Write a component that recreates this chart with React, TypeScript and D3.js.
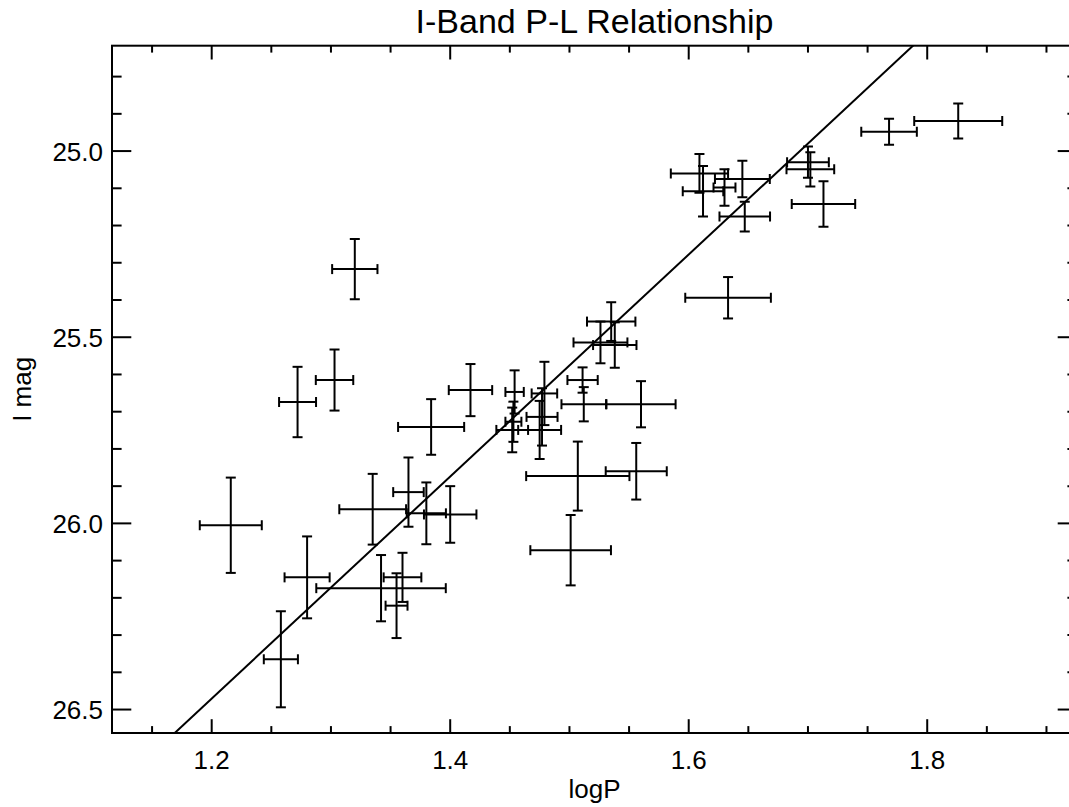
import React from "react";
import * as d3 from "d3";

const logP = [1.320, 1.303, 1.272, 1.417, 1.384, 1.216, 1.335, 1.365, 1.380, 1.400, 1.280, 1.258, 1.342, 1.360, 1.355, 1.633, 1.535, 1.526, 1.538, 1.511, 1.512, 1.560, 1.454, 1.452, 1.453, 1.479, 1.475, 1.477, 1.507, 1.556, 1.501, 1.826, 1.768, 1.700, 1.702, 1.713, 1.647, 1.645, 1.609, 1.612, 1.630];
const iMag = [25.317, 25.615, 25.674, 25.642, 25.741, 26.005, 25.962, 25.916, 25.973, 25.976, 26.145, 26.365, 26.174, 26.145, 26.221, 25.394, 25.458, 25.514, 25.521, 25.615, 25.680, 25.680, 25.647, 25.749, 25.727, 25.651, 25.749, 25.714, 25.873, 25.860, 26.072, 24.919, 24.948, 25.030, 25.049, 25.142, 25.176, 25.075, 25.060, 25.108, 25.098];
const logPErr = [0.019, 0.0157, 0.0155, 0.0182, 0.0277, 0.026, 0.028, 0.0128, 0.0164, 0.022, 0.0189, 0.0143, 0.0543, 0.0158, 0.0092, 0.0359, 0.0203, 0.0226, 0.0182, 0.0127, 0.0187, 0.029, 0.0077, 0.0133, 0.0067, 0.0107, 0.018, 0.013, 0.0433, 0.0256, 0.0338, 0.0369, 0.0233, 0.0175, 0.020, 0.0266, 0.0212, 0.023, 0.024, 0.017, 0.0092];
const iMagErr = [0.081, 0.082, 0.0945, 0.070, 0.0747, 0.128, 0.095, 0.093, 0.083, 0.076, 0.110, 0.129, 0.089, 0.066, 0.087, 0.0556, 0.052, 0.056, 0.061, 0.034, 0.046, 0.062, 0.058, 0.060, 0.054, 0.085, 0.078, 0.077, 0.0927, 0.076, 0.0945, 0.047, 0.035, 0.042, 0.046, 0.061, 0.040, 0.049, 0.052, 0.068, 0.049];

const fitSlope = -2.982;
const fitIntercept = 30.049;

const xDomain = [1.1164, 1.9256];
const yDomain = [24.717, 26.563];
const xMajorTicks = [1.2, 1.4, 1.6, 1.8];
const yMajorTicks = [25.0, 25.5, 26.0, 26.5];

const title = "I-Band P-L Relationship";
const xLabel = "logP";
const yLabel = "I mag";

export default function App() {
  const W = 1069, H = 807;
  const L = 112, R = 1077, T = 45.7, B = 733;
  const x = d3.scaleLinear().domain(xDomain).range([L, R]);
  const y = d3.scaleLinear().domain(yDomain).range([T, B]);
  const font = "'Liberation Sans', Arial, Helvetica, sans-serif";

  const xMinor = d3.range(Math.ceil(xDomain[0] / 0.05) * 0.05, xDomain[1], 0.05).map(v => +v.toFixed(3));
  const yMinor = d3.range(Math.ceil(yDomain[0] / 0.1) * 0.1, yDomain[1], 0.1).map(v => +v.toFixed(3));
  const isMajorX = (v: number) => xMajorTicks.some(t => Math.abs(t - v) < 1e-6);
  const isMajorY = (v: number) => yMajorTicks.some(t => Math.abs(t - v) < 1e-6);

  const xTickMaj = 13.8, xTickMin = 6.9, yTickMaj = 19.3, yTickMin = 9.6;
  const cap = 5;

  const fitLine = d3.line<number>().x(v => x(v)).y(v => y(fitIntercept + fitSlope * v));

  return (
    <svg width={W} height={H} style={{ position: "absolute", left: 0, top: 0, background: "#fff" }}>
      <defs>
        <clipPath id="plotClip">
          <rect x={L} y={T} width={R - L} height={B - T} />
        </clipPath>
      </defs>
      <rect x={0} y={0} width={W} height={H} fill="#fff" />
      <text x={(L + R) / 2} y={33} textAnchor="middle" fontFamily={font} fontSize={34} fill="#000">{title}</text>

      {/* frame */}
      <rect x={L} y={T} width={R - L} height={B - T} fill="none" stroke="#000" strokeWidth={2} />

      {/* x ticks */}
      {xMinor.map((v, i) => {
        const len = isMajorX(v) ? xTickMaj : xTickMin;
        return (
          <g key={"xt" + i} stroke="#000" strokeWidth={2}>
            <line x1={x(v)} x2={x(v)} y1={B} y2={B - len} />
            <line x1={x(v)} x2={x(v)} y1={T} y2={T + len} />
          </g>
        );
      })}
      {xMajorTicks.map((v, i) => (
        <text key={"xl" + i} x={x(v)} y={769} textAnchor="middle" fontFamily={font} fontSize={26} fill="#000">{v.toFixed(1)}</text>
      ))}

      {/* y ticks */}
      {yMinor.map((v, i) => {
        const len = isMajorY(v) ? yTickMaj : yTickMin;
        return (
          <g key={"yt" + i} stroke="#000" strokeWidth={2}>
            <line x1={L} x2={L + len} y1={y(v)} y2={y(v)} />
            <line x1={R} x2={R - len} y1={y(v)} y2={y(v)} />
          </g>
        );
      })}
      {yMajorTicks.map((v, i) => (
        <text key={"yl" + i} x={103} y={y(v) + 9.5} textAnchor="end" fontFamily={font} fontSize={26} fill="#000">{v.toFixed(1)}</text>
      ))}

      <text x={(L + R) / 2} y={798} textAnchor="middle" fontFamily={font} fontSize={26} fill="#000">{xLabel}</text>
      <text transform={`translate(31,${(T + B) / 2}) rotate(-90)`} textAnchor="middle" fontFamily={font} fontSize={26} fill="#000">{yLabel}</text>

      <g clipPath="url(#plotClip)">
        <path d={fitLine([xDomain[0], xDomain[1]]) || ""} fill="none" stroke="#000" strokeWidth={2} />
        {logP.map((lp, i) => {
          const cx = x(lp), cy = y(iMag[i]);
          const x0 = x(lp - logPErr[i]), x1 = x(lp + logPErr[i]);
          const y0 = y(iMag[i] - iMagErr[i]), y1 = y(iMag[i] + iMagErr[i]);
          return (
            <g key={"p" + i} stroke="#000" strokeWidth={2} fill="none">
              <line x1={x0} x2={x1} y1={cy} y2={cy} />
              <line x1={x0} x2={x0} y1={cy - cap} y2={cy + cap} />
              <line x1={x1} x2={x1} y1={cy - cap} y2={cy + cap} />
              <line x1={cx} x2={cx} y1={y0} y2={y1} />
              <line x1={cx - cap} x2={cx + cap} y1={y0} y2={y0} />
              <line x1={cx - cap} x2={cx + cap} y1={y1} y2={y1} />
            </g>
          );
        })}
      </g>
    </svg>
  );
}
